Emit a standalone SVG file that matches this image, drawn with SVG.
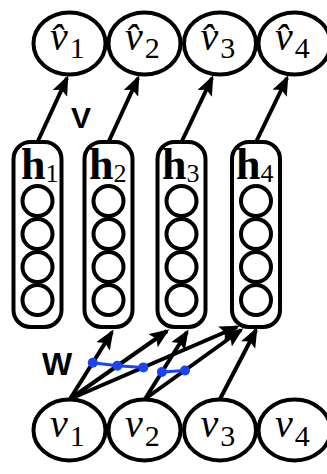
<svg xmlns="http://www.w3.org/2000/svg" width="327" height="474" viewBox="0 0 327 474">
<style>
.node{fill:#fff;stroke:#000;stroke-width:4}
.unit{fill:none;stroke:#000;stroke-width:4}
.edge{stroke:#000;stroke-width:4;fill:none;marker-end:url(#arr)}
.v{font-family:"Liberation Serif","DejaVu Serif",serif;font-style:italic;font-size:40px;fill:#000}
.sub{font-style:normal;font-size:30px}
.h{font-family:"Liberation Serif","DejaVu Serif",serif;font-weight:bold;font-size:44px;fill:#000}
.hsub{font-weight:normal;font-size:26px}
.lbl{font-family:"Liberation Sans",Arial,sans-serif;font-weight:bold;fill:#000}
.blue{stroke:#1a44f5;stroke-width:3;fill:none}
.dot{fill:#1a44f5}
</style>
<defs>
<marker id="arr" markerUnits="userSpaceOnUse" markerWidth="22" markerHeight="18" refX="17" refY="8" orient="auto">
<path d="M0,0 L20,8 L0,16 L4,8 z" fill="#000"/>
</marker>
</defs>
<rect width="327" height="474" fill="#fff"/>

<g id="connectors">
<line class="edge" x1="37.5" y1="142" x2="67" y2="78"/>
<line class="edge" x1="108.5" y1="142" x2="138" y2="78"/>
<line class="edge" x1="181.5" y1="142" x2="212" y2="78"/>
<line class="edge" x1="256" y1="142" x2="287" y2="78"/>
<line class="edge" x1="70" y1="399" x2="112" y2="332"/>
<line class="edge" x1="70" y1="399" x2="167" y2="331"/>
<line class="edge" x1="70" y1="399" x2="237" y2="327"/>
<line class="edge" x1="145" y1="399" x2="187" y2="332"/>
<line class="edge" x1="145" y1="399" x2="241" y2="330"/>
<line class="edge" x1="220" y1="399" x2="256" y2="330"/>
<text class="lbl" x="71" y="128" font-size="30">V</text>
<text class="lbl" x="42" y="375" font-size="32">W</text>
</g>

<g id="weights">
<polyline class="blue" points="92.8,362.7 117.3,365.8 143.3,367.4"/>
<line class="blue" x1="161.9" y1="372" x2="185" y2="370.5"/>
<circle class="dot" cx="92.8" cy="362.7" r="5"/>
<circle class="dot" cx="117.3" cy="365.8" r="5"/>
<circle class="dot" cx="143.3" cy="367.4" r="5"/>
<circle class="dot" cx="161.9" cy="372" r="5"/>
<circle class="dot" cx="185" cy="370.5" r="5"/>
</g>

<g id="out1">
<ellipse class="node" cx="69.5" cy="43.5" rx="36" ry="31"/>
<text class="v" x="50" y="50">v̂<tspan class="sub" dx="2" dy="8">1</tspan></text>
</g>
<g id="out2">
<ellipse class="node" cx="144.5" cy="43.5" rx="36" ry="31"/>
<text class="v" x="125" y="50">v̂<tspan class="sub" dx="2" dy="8">2</tspan></text>
</g>
<g id="out3">
<ellipse class="node" cx="220" cy="43.5" rx="36" ry="31"/>
<text class="v" x="200.5" y="50">v̂<tspan class="sub" dx="2" dy="8">3</tspan></text>
</g>
<g id="out4">
<ellipse class="node" cx="294.5" cy="43.5" rx="36" ry="31"/>
<text class="v" x="275" y="50">v̂<tspan class="sub" dx="2" dy="8">4</tspan></text>
</g>

<g id="h1">
<rect class="unit" x="13.5" y="142" width="48" height="185" rx="17"/>
<text class="h" x="21" y="179">h<tspan class="hsub" dy="3">1</tspan></text>
<circle class="unit" cx="37.5" cy="201" r="15"/>
<circle class="unit" cx="37.5" cy="234" r="15"/>
<circle class="unit" cx="37.5" cy="267" r="15"/>
<circle class="unit" cx="37.5" cy="300" r="15"/>
</g>
<g id="h2">
<rect class="unit" x="84.5" y="142" width="48" height="185" rx="17"/>
<text class="h" x="89" y="179">h<tspan class="hsub" dy="3">2</tspan></text>
<circle class="unit" cx="108.5" cy="201" r="15"/>
<circle class="unit" cx="108.5" cy="234" r="15"/>
<circle class="unit" cx="108.5" cy="267" r="15"/>
<circle class="unit" cx="108.5" cy="300" r="15"/>
</g>
<g id="h3">
<rect class="unit" x="157.5" y="142" width="48" height="185" rx="17"/>
<text class="h" x="162" y="179">h<tspan class="hsub" dy="3">3</tspan></text>
<circle class="unit" cx="181.5" cy="201" r="15"/>
<circle class="unit" cx="181.5" cy="234" r="15"/>
<circle class="unit" cx="181.5" cy="267" r="15"/>
<circle class="unit" cx="181.5" cy="300" r="15"/>
</g>
<g id="h4">
<rect class="unit" x="232" y="142" width="48" height="185" rx="17"/>
<text class="h" x="236" y="179">h<tspan class="hsub" dy="3">4</tspan></text>
<circle class="unit" cx="256" cy="201" r="15"/>
<circle class="unit" cx="256" cy="234" r="15"/>
<circle class="unit" cx="256" cy="267" r="15"/>
<circle class="unit" cx="256" cy="300" r="15"/>
</g>

<g id="in1">
<ellipse class="node" cx="69.5" cy="430" rx="36" ry="30.5"/>
<text class="v" x="50" y="437">v<tspan class="sub" dx="2" dy="9">1</tspan></text>
</g>
<g id="in2">
<ellipse class="node" cx="144.5" cy="430" rx="36" ry="30.5"/>
<text class="v" x="125" y="437">v<tspan class="sub" dx="2" dy="9">2</tspan></text>
</g>
<g id="in3">
<ellipse class="node" cx="220" cy="430" rx="36" ry="30.5"/>
<text class="v" x="200.5" y="437">v<tspan class="sub" dx="2" dy="9">3</tspan></text>
</g>
<g id="in4">
<ellipse class="node" cx="294.5" cy="430" rx="36" ry="30.5"/>
<text class="v" x="275" y="437">v<tspan class="sub" dx="2" dy="9">4</tspan></text>
</g>
</svg>
